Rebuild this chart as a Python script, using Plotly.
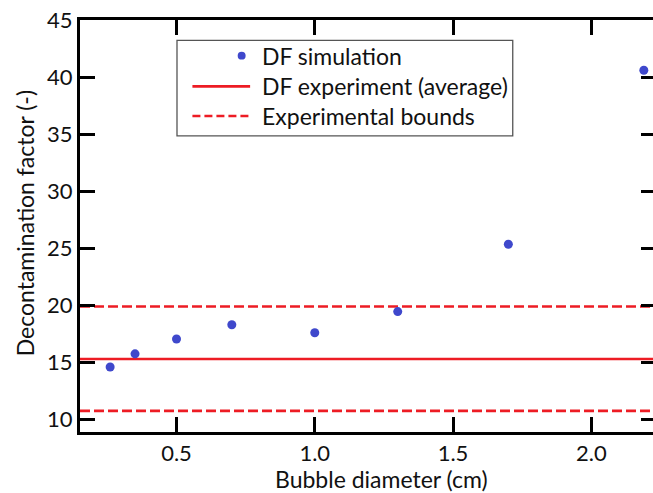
import plotly.graph_objects as go

# Data
bubble_diameter = [0.26, 0.35, 0.50, 0.70, 1.00, 1.30, 1.70, 2.19]
df_simulation = [14.6, 15.75, 17.05, 18.3, 17.6, 19.45, 25.35, 40.6]
df_experiment_avg = 15.3
df_exp_upper = 19.9
df_exp_lower = 10.75

x_ticks = [0.5, 1.0, 1.5, 2.0]
x_tick_labels = ["0.5", "1.0", "1.5", "2.0"]
y_ticks = [10, 15, 20, 25, 30, 35, 40, 45]

legend_labels = ["DF simulation", "DF experiment (average)", "Experimental bounds"]

BLUE = "#3f48cc"
RED = "#ed1c24"
FONT = "Lato, Carlito, sans-serif"
TXT = "#111111"

# The figure is slightly wider than the 653px window: the right axis line
# sits just outside the picture, as in the reference, only its ticks show.
FIG_W, FIG_H = 665, 493
L, R, T, B = 80, 6, 16, 61
PLOT_W = FIG_W - L - R   # 579
PLOT_H = FIG_H - T - B   # 416

x_range = [0.151, 2.234]
y_range = [8.9, 45]

fig = go.Figure()

fig.add_trace(go.Scatter(
    x=x_range, y=[df_exp_upper, df_exp_upper], mode="lines",
    line=dict(color=RED, width=2.6, dash="10px,4px"), showlegend=False, hoverinfo="skip"))
fig.add_trace(go.Scatter(
    x=x_range, y=[df_exp_lower, df_exp_lower], mode="lines",
    line=dict(color=RED, width=2.6, dash="10px,4px"), showlegend=False, hoverinfo="skip"))
fig.add_trace(go.Scatter(
    x=x_range, y=[df_experiment_avg, df_experiment_avg], mode="lines",
    line=dict(color=RED, width=2.6), showlegend=False, hoverinfo="skip"))
fig.add_trace(go.Scatter(
    x=bubble_diameter, y=df_simulation, mode="markers",
    marker=dict(color=BLUE, size=9), showlegend=False, cliponaxis=False))

fig.update_layout(
    width=FIG_W, height=FIG_H,
    margin=dict(l=L, r=R, t=T, b=B),
    paper_bgcolor="white", plot_bgcolor="white",
    font=dict(family=FONT, color=TXT),
    xaxis=dict(
        range=x_range, tickvals=x_ticks, ticktext=x_tick_labels,
        showline=True, linecolor="black", linewidth=3, mirror="ticks",
        ticks="inside", ticklen=15, tickwidth=3, tickcolor="black",
        showgrid=False, zeroline=False,
        tickfont=dict(size=22, family=FONT, color=TXT),
    ),
    yaxis=dict(
        range=y_range, tickvals=y_ticks,
        showline=True, linecolor="black", linewidth=3, mirror="ticks",
        ticks="inside", ticklen=15, tickwidth=3, tickcolor="black",
        showgrid=False, zeroline=False,
        tickfont=dict(size=22, family=FONT, color=TXT),
    ),
)

def px_x(px):
    return (px - L) / PLOT_W

def px_y(py):
    return (FIG_H - B - py) / PLOT_H

# axis titles
fig.add_annotation(
    text="Bubble diameter (cm)", xref="paper", yref="paper",
    x=px_x(383), y=px_y(479), xanchor="center", yanchor="middle",
    showarrow=False, font=dict(size=23, family=FONT, color=TXT))
fig.add_annotation(
    text="Decontamination factor (-)", xref="paper", yref="paper",
    x=px_x(25), y=px_y(221), xanchor="center", yanchor="middle", textangle=-90,
    showarrow=False, font=dict(size=23, family=FONT, color=TXT))

# Legend box built from shapes + text
fig.add_shape(type="rect", xref="paper", yref="paper",
              x0=px_x(177.5), x1=px_x(515), y0=px_y(133), y1=px_y(36.5),
              line=dict(color="#555555", width=1.3), fillcolor="white", layer="above")
rows_y = [52, 83, 113]
fig.add_shape(type="circle", xref="paper", yref="paper",
              x0=px_x(238.5), x1=px_x(246.5), y0=px_y(rows_y[0] + 4), y1=px_y(rows_y[0] - 4),
              line=dict(color=BLUE, width=0), fillcolor=BLUE, layer="above")
fig.add_shape(type="line", xref="paper", yref="paper",
              x0=px_x(193), x1=px_x(251), y0=px_y(rows_y[1]), y1=px_y(rows_y[1]),
              line=dict(color=RED, width=2.6), layer="above")
fig.add_shape(type="line", xref="paper", yref="paper",
              x0=px_x(193), x1=px_x(251), y0=px_y(rows_y[2]), y1=px_y(rows_y[2]),
              line=dict(color=RED, width=2.6, dash="8px,4px"), layer="above")
for label, ry in zip(legend_labels, rows_y):
    fig.add_annotation(text=label, xref="paper", yref="paper",
                       x=px_x(261), y=px_y(ry), xanchor="left", yanchor="middle",
                       showarrow=False, font=dict(size=23, family=FONT, color=TXT))

fig.write_html(
    "out.html",
    config={"displayModeBar": False},
    post_script="document.documentElement.style.overflow='hidden';document.body.style.margin='0';document.body.style.overflow='hidden';",
)
